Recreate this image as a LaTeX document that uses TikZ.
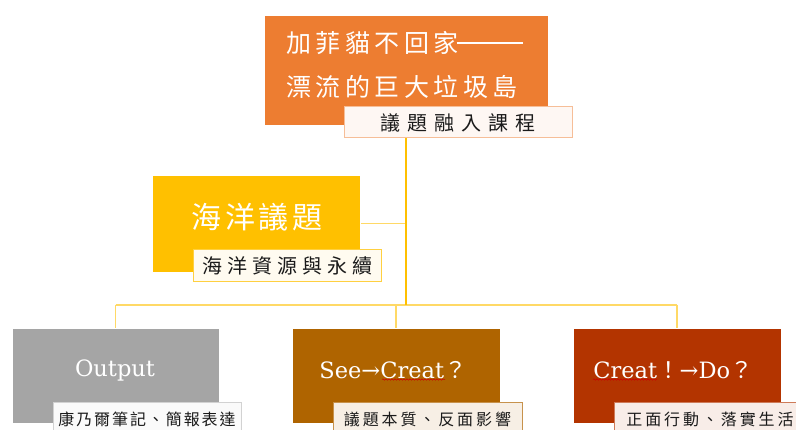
\documentclass[tikz,border=0pt]{standalone}
\usepackage{fontspec}
\setmainfont{DejaVu Serif}
\newfontfamily\cjk{Noto Sans CJK TC}
\usetikzlibrary{backgrounds,decorations.pathmorphing}
\definecolor{cOrange}{HTML}{ED7D31}
\definecolor{cYellow}{HTML}{FFC000}
\definecolor{cGray}{HTML}{A5A5A5}
\definecolor{cBrown}{HTML}{AF6400}
\definecolor{cRust}{HTML}{B33400}
\definecolor{cLine}{HTML}{FFD966}
\definecolor{cTxt}{HTML}{1A1A1A}
\tikzset{
  box/.style={rectangle, inner sep=0pt, outer sep=0pt, draw=white, line width=0.6pt},
  tag/.style={rectangle, inner sep=0pt, outer sep=0pt, line width=1pt, text=cTxt,
    minimum width=188pt, minimum height=32pt},
  wtext/.style={inner sep=0pt, text=white},
  trunk/.style={draw=cYellow, line width=2pt},
  branch/.style={draw=cLine, line width=1.4pt},
  spell/.style={draw=red!80!black, line width=0.5pt, decorate,
    decoration={snake, amplitude=0.7pt, segment length=3pt}}
}
\newcommand{\fsz}[2]{\fontsize{#1}{#2}\selectfont}
\begin{document}
\begin{tikzpicture}[x=1pt,y=-1pt]
\useasboundingbox (0,0) rectangle (796,430);
% boxes
\node[box, fill=cOrange, minimum width=284pt, minimum height=110pt] (top) at (406,70) {};
\node[box, fill=cYellow, minimum width=208pt, minimum height=97pt] (yel) at (256,223.5) {};
\node[box, fill=cGray, minimum width=207pt, minimum height=95pt] (gray) at (115.5,375.5) {};
\node[box, fill=cBrown, minimum width=208pt, minimum height=95pt] (mid) at (396,375.5) {};
\node[box, fill=cRust, minimum width=208pt, minimum height=95pt] (rgt) at (677,375.5) {};
% titles
\node[wtext, align=left, font={\cjk\fsz{25}{44}\addfontfeature{LetterSpace=18}}, anchor=west] (topT) at (286,65)
  {加菲貓不回家\hspace{-2pt}\rule[9pt]{66pt}{1.3pt}\\漂流的巨大垃圾島};
\node[wtext, font={\cjk\fsz{30}{36}\addfontfeature{LetterSpace=13}}] (yelT) at (257,217) {海洋議題};
\node[wtext, font=\fsz{22.5}{26}] (grayT) at (115,370) {Output};
\node[wtext, font=\fsz{22.5}{26}] (midT) at (393,370) {See→Creat{\cjk ？}};
\node[wtext, font=\fsz{22.5}{26}] (rgtT) at (673,370) {Creat{\cjk ！}→Do{\cjk ？}};
% tags
\node[tag, fill=white!94!cOrange, draw=cOrange!50!white, minimum width=228pt, minimum height=31pt,
  font={\cjk\fsz{20}{24}\addfontfeature{LetterSpace=35}}] (topL) at (458,122.5) {議題融入課程};
\node[tag, fill=white!94!cYellow, draw=cYellow!75!white,
  font={\cjk\fsz{20}{24}\addfontfeature{LetterSpace=25}}] (yelL) at (287,266) {海洋資源與永續};
\node[tag, fill=white!95!cGray, draw=cGray!50!white,
  font={\cjk\fsz{16}{20}\addfontfeature{LetterSpace=12}}] (grayL) at (147,419) {\raisebox{1pt}{康乃爾筆記、簡報表達}};
\node[tag, fill=white!90!cBrown, draw=cBrown!70!white, minimum width=189pt,
  font={\cjk\fsz{16}{20}\addfontfeature{LetterSpace=18}}] (midL) at (427.5,419) {\raisebox{1pt}{議題本質、反面影響}};
\node[tag, fill=white!91!cRust, draw=cRust!65!white,
  font={\cjk\fsz{16}{20}\addfontfeature{LetterSpace=18}}] (rgtL) at (708,419) {\raisebox{1pt}{\hspace*{4pt}正面行動、落實生活}};
% spell-check underlines
\draw[spell] (382,379.5) -- (445,379.5);
\draw[spell] (593,379.5) -- (657,379.5);
% connectors
\begin{scope}[on background layer]
  \fill[white] (0,0) rectangle (796,430);
  \coordinate (hub) at (406,305);
  \coordinate (barL) at (115.5,305);
  \coordinate (barR) at (677,305);
  \coordinate (barM) at (396,305);
  \draw[branch] (yel.east) -- (yel.east -| hub);
  \draw[branch] (barL) -- (barR);
  \draw[branch] (barL) -- (gray.north);
  \draw[branch] (barM) -- (mid.north);
  \draw[branch] (barR) -- (rgt.north);
  \draw[trunk] (top.south) -- (hub);
\end{scope}
\end{tikzpicture}
\end{document}
